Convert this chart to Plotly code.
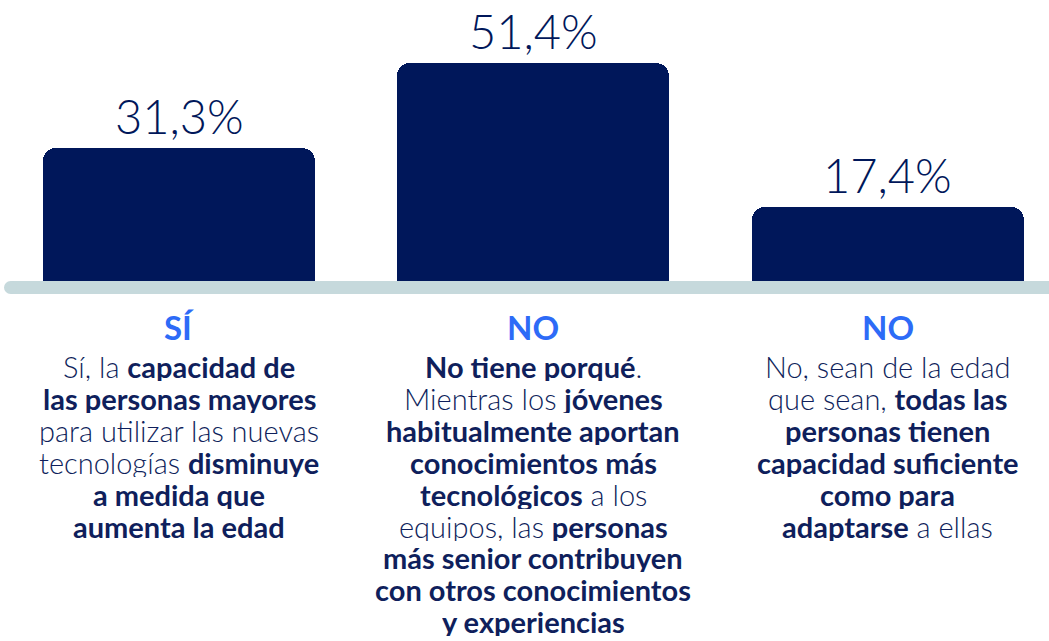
import plotly.graph_objects as go

categories = [0, 1, 2]
values = [31.3, 51.4, 17.4]
value_labels = ["31,3%", "51,4%", "17,4%"]
headers = ["SÍ", "NO", "NO"]
descriptions = [
    [
        "Sí, la <b>capacidad de</b>",
        "<b>las personas mayores</b>",
        "para utilizar las nuevas",
        "tecnologías <b>disminuye</b>",
        "<b>a medida que</b>",
        "<b>aumenta la edad</b>",
    ],
    [
        "<b>No tiene porqué</b>.",
        "Mientras los <b>jóvenes</b>",
        "<b>habitualmente aportan</b>",
        "<b>conocimientos más</b>",
        "<b>tecnológicos</b> a los",
        "equipos, las <b>personas</b>",
        "<b>más senior contribuyen</b>",
        "<b>con otros conocimientos</b>",
        "<b>y experiencias</b>",
    ],
    [
        "No, sean de la edad",
        "que sean, <b>todas las</b>",
        "<b>personas tienen</b>",
        "<b>capacidad suficiente</b>",
        "<b>como para</b>",
        "<b>adaptarse</b> a ellas",
    ],
]

NAVY = "#00175a"
TEXT = "#0f1f5c"
BLUE = "#2d6bf7"
GREY = "#c6d9dc"
FONT = "Lato"

W, H = 1049, 641
PX_PER_UNIT = 4.25
BASE_PX = 281          # pixel row of the bar bottoms (from top)
C0, STEP = 179.0, 354.25

y_min = -(H - BASE_PX) / PX_PER_UNIT
y_max = BASE_PX / PX_PER_UNIT
x_min = -C0 / STEP
x_max = (W - C0) / STEP

fig = go.Figure()
fig.add_trace(go.Bar(
    x=categories, y=values,
    width=272 / STEP,
    marker=dict(color=NAVY, cornerradius=13, line=dict(width=0)),
    hoverinfo="skip",
))

# value labels
for c, v, lab in zip(categories, values, value_labels):
    fig.add_annotation(
        x=c, y=v, xref="x", yref="y", text=lab, showarrow=False,
        yanchor="bottom", yshift=2,
        font=dict(family=FONT, size=47, color=NAVY, weight=300),
    )

# grey baseline band
band_h = 13
fig.add_shape(type="rect", xref="paper", yref="y",
              x0=10.5 / W, x1=1, y0=-band_h / PX_PER_UNIT, y1=0,
              line=dict(width=0), fillcolor=GREY, layer="below")
fig.add_shape(type="circle", xref="paper", yref="y",
              xsizemode="pixel", ysizemode="pixel",
              xanchor=10.5 / W, yanchor=-(band_h / 2) / PX_PER_UNIT,
              x0=-6.5, x1=6.5, y0=-6.5, y1=6.5,
              line=dict(width=0), fillcolor=GREY, layer="below")

# headers
for c, h in zip(categories, headers):
    fig.add_annotation(
        x=c, y=0, xref="x", yref="y", text=f"<b>{h}</b>", showarrow=False,
        yanchor="middle", yshift=-(327 - BASE_PX),
        font=dict(family=FONT, size=33, color=BLUE),
    )

# description lines
LINE_GAP = 31.9
FIRST_CENTER = 366
for c, lines in zip(categories, descriptions):
    for k, line in enumerate(lines):
        fig.add_annotation(
            x=c, y=0, xref="x", yref="y", text=line, showarrow=False,
            yanchor="middle", valign="middle", height=30, borderpad=0,
            yshift=-(FIRST_CENTER + k * LINE_GAP - BASE_PX),
            font=dict(family=FONT, size=29, color=TEXT, weight=300),
        )

fig.update_layout(
    width=W, height=H,
    margin=dict(l=0, r=0, t=0, b=0),
    paper_bgcolor="white", plot_bgcolor="white",
    showlegend=False,
    xaxis=dict(range=[x_min, x_max], visible=False, fixedrange=True),
    yaxis=dict(range=[y_min, y_max], visible=False, fixedrange=True),
    bargap=0,
)
fig.write_html(
    "out.html",
    config={"displayModeBar": False},
    post_script="document.body.style.margin='0';document.body.style.overflow='hidden';",
)
